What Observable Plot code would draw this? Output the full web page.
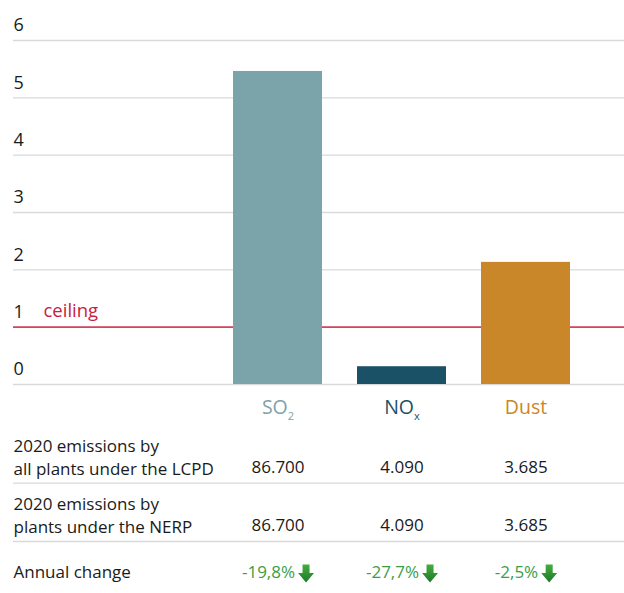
<!DOCTYPE html>
<html>
<head>
<meta charset="utf-8">
<script src="https://cdn.jsdelivr.net/npm/d3@7"></script>
<script src="https://cdn.jsdelivr.net/npm/@observablehq/plot@0.6"></script>
<style>
  body { margin: 0; background: #fff; font-family: "Open Sans", sans-serif; }
</style>
</head>
<body>
<div id="chart"></div>
<script>
// Pollutants, emissions relative to the ceiling, and the table underneath
const pollutants = ["SO2", "NOx", "Dust"];
const formulaBase = ["SO", "NO", "Dust"];
const formulaSub = ["2", "x", ""];
const ratioToCeiling = [5.46, 0.31, 2.13];
const emissionsLCPD = ["86.700", "4.090", "3.685"];
const emissionsNERP = ["86.700", "4.090", "3.685"];
const annualChange = ["-19,8%", "-27,7%", "-2,5%"];
const ceilingValue = 1;
const ceilingLabel = "ceiling";
const yTicks = [0, 1, 2, 3, 4, 5, 6];
const rowLabels = [
  "2020 emissions by\nall plants under the LCPD",
  "2020 emissions by\nplants under the NERP",
  "Annual change"
];
const pollutantColors = ["#7ba3aa", "#1b5166", "#c9872a"];

const rows = pollutants.map((p, i) => ({
  p,
  base: formulaBase[i],
  sub: formulaSub[i],
  ratio: ratioToCeiling[i],
  lcpd: emissionsLCPD[i],
  nerp: emissionsNERP[i],
  change: annualChange[i]
}));

const FONT = "'Open Sans', sans-serif";
const TABLE_SIZE = 17;
const TEXT = "#1a1a1a";
const GREEN = "#3a9e48";
const GRID = "#d9d9d9";

// thick downward arrow used next to each annual change
const ARROW_W = 16, GAP = 3;
const arrowDown = {
  draw(ctx) {
    ctx.moveTo(-3.5, -9);
    ctx.lineTo(3.5, -9);
    ctx.lineTo(3.5, -0.5);
    ctx.lineTo(8, -0.5);
    ctx.lineTo(0, 9);
    ctx.lineTo(-8, -0.5);
    ctx.lineTo(-3.5, -0.5);
    ctx.closePath();
  }
};

// width of a label so that "value + arrow" can be centred under its bar
const measureCtx = document.createElement("canvas").getContext("2d");
measureCtx.font = `${TABLE_SIZE}px ${FONT}`;
const textWidth = s => measureCtx.measureText(s).width;

const tableText = { frameAnchor: "bottom", lineAnchor: "middle", fontSize: TABLE_SIZE };

const changeMarks = rows.flatMap(r => {
  const tw = textWidth(r.change);
  const w = tw + GAP + ARROW_W;
  return [
    Plot.text([r], {
      ...tableText, x: "p", text: "change",
      textAnchor: "end", dx: tw - w / 2, dy: 187.7, fill: GREEN
    }),
    Plot.dot([r], {
      x: "p", frameAnchor: "bottom", symbol: arrowDown, r: 8,
      dx: w / 2 - ARROW_W / 2, dy: 189,
      fill: "url(#arrowGrad)", stroke: "none"
    })
  ];
});

const chart = Plot.plot({
  width: 624,
  height: 593,
  marginTop: 40,
  marginBottom: 209,
  marginLeft: 13,
  marginRight: 0,
  style: { fontFamily: FONT, fontSize: "17px", color: TEXT, background: "#fff", overflow: "visible" },
  x: { domain: pollutants, range: [232, 571], paddingInner: 0.28, paddingOuter: 0, axis: null },
  y: { domain: [0, 6], axis: null },
  color: { domain: pollutants, range: pollutantColors },
  marks: [
    Plot.gridY(yTicks, { stroke: GRID, strokeOpacity: 1, strokeWidth: 1.3 }),
    Plot.axisY(yTicks, {
      anchor: "left", tickSize: 0, tickPadding: 0, textAnchor: "start",
      tickFormat: d => String(d), dy: -15, fontSize: 18, fill: TEXT, label: null
    }),
    Plot.ruleY([ceilingValue], { stroke: "#d7455c", strokeWidth: 1.6 }),
    Plot.text([ceilingValue], {
      y: d => d, text: () => ceilingLabel, frameAnchor: "left", lineAnchor: "middle",
      textAnchor: "start", dx: 30, dy: -16, fill: "#c8203f", fontSize: 18.5
    }),
    Plot.barY(rows, { x: "p", y: "ratio", fill: "p" }),
    Plot.text(rows, {
      x: "p", text: "base", frameAnchor: "bottom", lineAnchor: "middle", dy: 23,
      fill: "p", fontSize: 19.5, className: "pollutant-label"
    }),

    // table: emissions by all LCPD plants
    Plot.text([rowLabels[0]], {
      ...tableText, frameAnchor: "bottom-left", text: d => d, textAnchor: "start",
      dy: 71.5, lineHeight: 1.33, fill: TEXT
    }),
    Plot.text(rows, { ...tableText, x: "p", text: "lcpd", dy: 82.7, fill: TEXT }),
    Plot.ruleY([0], { dy: 98.7, stroke: GRID, strokeWidth: 1.3 }),

    // table: emissions by NERP plants
    Plot.text([rowLabels[1]], {
      ...tableText, frameAnchor: "bottom-left", text: d => d, textAnchor: "start",
      dy: 129.5, lineHeight: 1.37, fill: TEXT
    }),
    Plot.text(rows, { ...tableText, x: "p", text: "nerp", dy: 141, fill: TEXT }),
    Plot.ruleY([0], { dy: 157, stroke: GRID, strokeWidth: 1.3 }),

    // table: annual change
    Plot.text([rowLabels[2]], {
      ...tableText, frameAnchor: "bottom-left", text: d => d, textAnchor: "start",
      dy: 187.7, fill: TEXT
    }),
    ...changeMarks
  ]
});

// gradient for the arrows
const defs = d3.select(chart).insert("defs", ":first-child");
const grad = defs.append("linearGradient")
  .attr("id", "arrowGrad").attr("x1", 0).attr("y1", 0).attr("x2", 0).attr("y2", 1);
grad.append("stop").attr("offset", "0%").attr("stop-color", "#45ad3c");
grad.append("stop").attr("offset", "100%").attr("stop-color", "#1b7a2b");

// chemical subscripts in the pollutant names
d3.select(chart).selectAll(".pollutant-label text").each(function (d, i) {
  const r = rows[i];
  if (!r || !r.sub) return;
  const t = d3.select(this);
  t.text(r.base);
  t.append("tspan").attr("dy", 6).attr("font-size", 11).text(r.sub);
});

document.getElementById("chart").appendChild(chart);
</script>
</body>
</html>
